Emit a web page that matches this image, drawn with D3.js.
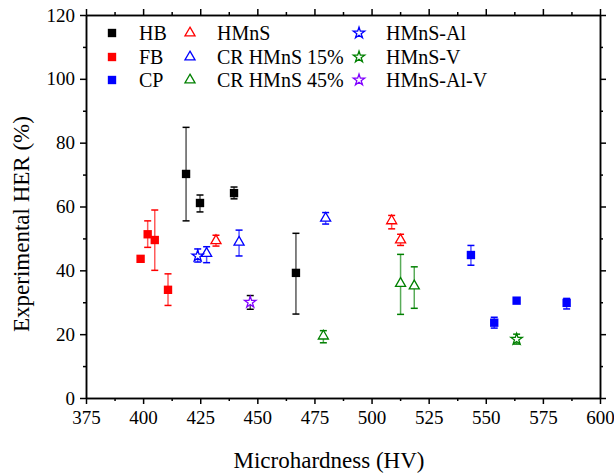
<!DOCTYPE html>
<html>
<head>
<meta charset="utf-8">
<script src="https://cdn.jsdelivr.net/npm/d3@7"></script>
<style>
  body { margin: 0; background: #fff; }
  text { font-family: "Liberation Serif", "Times New Roman", serif; fill: #000; }
</style>
</head>
<body>
<div id="chart"></div>
<script>
// Each point: [hardness HV, HER %, error low, error high]
const hb = [[418.8, 70.2, 55.5, 84.8], [424.9, 61.1, 58.3, 63.6], [439.8, 64.2, 62.4, 66.1], [466.9, 39.2, 26.3, 51.6]];
const fb = [[398.9, 43.6, null, null], [402.0, 51.3, 47.2, 55.5], [405.1, 49.5, 40.0, 58.9], [410.9, 33.9, 29.0, 38.9]];
const cp = [[543.5, 44.8, 41.6, 47.8], [553.7, 23.6, 21.9, 25.3], [563.5, 30.5, null, null], [585.4, 29.8, 27.9, 31.2]];
const hmns = [[431.9, 49.3, 47.6, 51.0], [508.8, 55.5, 53.0, 57.2], [512.7, 49.5, 47.8, 51.3]];
const cr15 = [[427.8, 45.3, 42.4, 47.4], [442.0, 48.8, 44.5, 52.6], [479.9, 56.3, 54.5, 58.1]];
const cr45 = [[478.9, 19.4, 17.3, 21.1], [512.7, 35.9, 26.2, 45.0], [518.7, 35.1, 28.1, 41.1]];
const hmnsAl = [[423.9, 44.5, 42.6, 46.7]];
const hmnsV = [[563.5, 18.4, 16.9, 20.0]];
const hmnsAlV = [[446.9, 30.0, 27.8, 32.1]];

const xTicks = [375, 400, 425, 450, 475, 500, 525, 550, 575, 600];
const yTicks = [0, 20, 40, 60, 80, 100, 120];

const series = [
    { name: 'HB', data: hb, color: '#000000', shape: 'square' },
    { name: 'FB', data: fb, color: '#ff0000', shape: 'square' },
    { name: 'CP', data: cp, color: '#0000ff', shape: 'square' },
    { name: 'HMnS', data: hmns, color: '#ff0000', shape: 'triangle' },
    { name: 'CR HMnS 15%', data: cr15, color: '#0000ff', shape: 'triangle' },
    { name: 'CR HMnS 45%', data: cr45, color: '#008000', shape: 'triangle' },
    { name: 'HMnS-Al', data: hmnsAl, color: '#0000ff', shape: 'star' },
    { name: 'HMnS-V', data: hmnsV, color: '#008000', shape: 'star' },
    { name: 'HMnS-Al-V', data: hmnsAlV, color: '#8000ff', shape: 'star', errColor: '#000000' }
];

const width = 614;
const height = 476;
const margin = { top: 15, right: 14, bottom: 78, left: 86 };

const x = d3.scaleLinear().domain([375, 600]).range([margin.left, width - margin.right]);
const y = d3.scaleLinear().domain([0, 120]).range([height - margin.bottom, margin.top]);

const svg = d3.select('#chart').append('svg')
    .attr('width', width)
    .attr('height', height);

// minor tick positions halfway between majors
const xMinor = xTicks.slice(0, -1).map((v, i) => (v + xTicks[i + 1]) / 2);
const yMinor = yTicks.slice(0, -1).map((v, i) => (v + yTicks[i + 1]) / 2);

function styleAxis(g) {
    g.select('.domain').attr('stroke', '#000').attr('stroke-width', 1.5);
    g.selectAll('.tick line').attr('stroke', '#000').attr('stroke-width', 1.5);
    g.selectAll('.tick text')
        .style('font-family', '"Liberation Serif", serif')
        .style('font-size', '19px')
        .attr('fill', '#000');
}

const bottom = height - margin.bottom;
const right = width - margin.right;

// Axes: major ticks outward with labels on bottom/left, plain on top/right
svg.append('g').attr('transform', `translate(0,${bottom})`)
    .call(d3.axisBottom(x).tickValues(xTicks).tickSize(6).tickPadding(7).tickSizeOuter(0))
    .call(styleAxis);
svg.append('g').attr('transform', `translate(0,${bottom})`)
    .call(d3.axisBottom(x).tickValues(xMinor).tickSize(3).tickFormat('').tickSizeOuter(0))
    .call(styleAxis);
svg.append('g').attr('transform', `translate(${margin.left},0)`)
    .call(d3.axisLeft(y).tickValues(yTicks).tickSize(6).tickPadding(5).tickSizeOuter(0))
    .call(styleAxis);
svg.append('g').attr('transform', `translate(${margin.left},0)`)
    .call(d3.axisLeft(y).tickValues(yMinor).tickSize(3).tickFormat('').tickSizeOuter(0))
    .call(styleAxis);
svg.append('g').attr('transform', `translate(0,${margin.top})`)
    .call(d3.axisTop(x).tickValues(xTicks).tickSize(6).tickFormat('').tickSizeOuter(0))
    .call(styleAxis);
svg.append('g').attr('transform', `translate(0,${margin.top})`)
    .call(d3.axisTop(x).tickValues(xMinor).tickSize(3).tickFormat('').tickSizeOuter(0))
    .call(styleAxis);
svg.append('g').attr('transform', `translate(${right},0)`)
    .call(d3.axisRight(y).tickValues(yTicks).tickSize(6).tickFormat('').tickSizeOuter(0))
    .call(styleAxis);
svg.append('g').attr('transform', `translate(${right},0)`)
    .call(d3.axisRight(y).tickValues(yMinor).tickSize(3).tickFormat('').tickSizeOuter(0))
    .call(styleAxis);

// Axis titles
svg.append('text')
    .attr('x', 329)
    .attr('y', 468)
    .attr('text-anchor', 'middle')
    .style('font-size', '23px')
    .text('Microhardness (HV)');

svg.append('text')
    .attr('transform', 'translate(29,224) rotate(-90)')
    .attr('text-anchor', 'middle')
    .style('font-size', '23px')
    .text('Experimental HER (%)');

// Symbol generators
const symbols = {
    square: d3.symbol().type(d3.symbolSquare).size(70),
    triangle: d3.symbol().type(d3.symbolTriangle).size(44),
    star: d3.symbol().type(d3.symbolStar).size(40)
};

function drawMarker(sel, s) {
    sel.attr('d', symbols[s.shape]())
        .attr('fill', s.shape === 'square' ? s.color : '#fff')
        .attr('stroke', s.color)
        .attr('stroke-width', s.shape === 'square' ? 0 : 1.3);
}

const plot = svg.append('g');

series.forEach(s => {
    const g = plot.append('g');
    const withErr = s.data.filter(d => d[2] !== null);
    const ec = s.errColor || s.color;

    g.selectAll('.err').data(withErr).enter().append('line')
        .attr('x1', d => x(d[0])).attr('x2', d => x(d[0]))
        .attr('y1', d => y(d[2])).attr('y2', d => y(d[3]))
        .attr('stroke', ec).attr('stroke-opacity', 0.65).attr('stroke-width', 1.5);

    ['lo', 'hi'].forEach((k, i) => {
        g.selectAll('.cap-' + k).data(withErr).enter().append('line')
            .attr('x1', d => x(d[0]) - 3.5).attr('x2', d => x(d[0]) + 3.5)
            .attr('y1', d => y(d[2 + i])).attr('y2', d => y(d[2 + i]))
            .attr('stroke', ec).attr('stroke-width', 1.5);
    });

    g.selectAll('.pt').data(s.data).enter().append('path')
        .attr('transform', d => `translate(${x(d[0])},${y(d[1])})`)
        .call(drawMarker, s);
});

// Legend: three columns of three
const legendCols = [112, 190, 359];
const legendRows = [33, 57, 80];
series.forEach((s, i) => {
    const cx = legendCols[Math.floor(i / 3)];
    const cy = legendRows[i % 3];
    svg.append('path')
        .attr('transform', `translate(${cx},${cy})`)
        .call(drawMarker, s);
    svg.append('text')
        .attr('x', cx + 27)
        .attr('y', cy + 7)
        .style('font-size', '20px')
        .text(s.name);
});
</script>
</body>
</html>
